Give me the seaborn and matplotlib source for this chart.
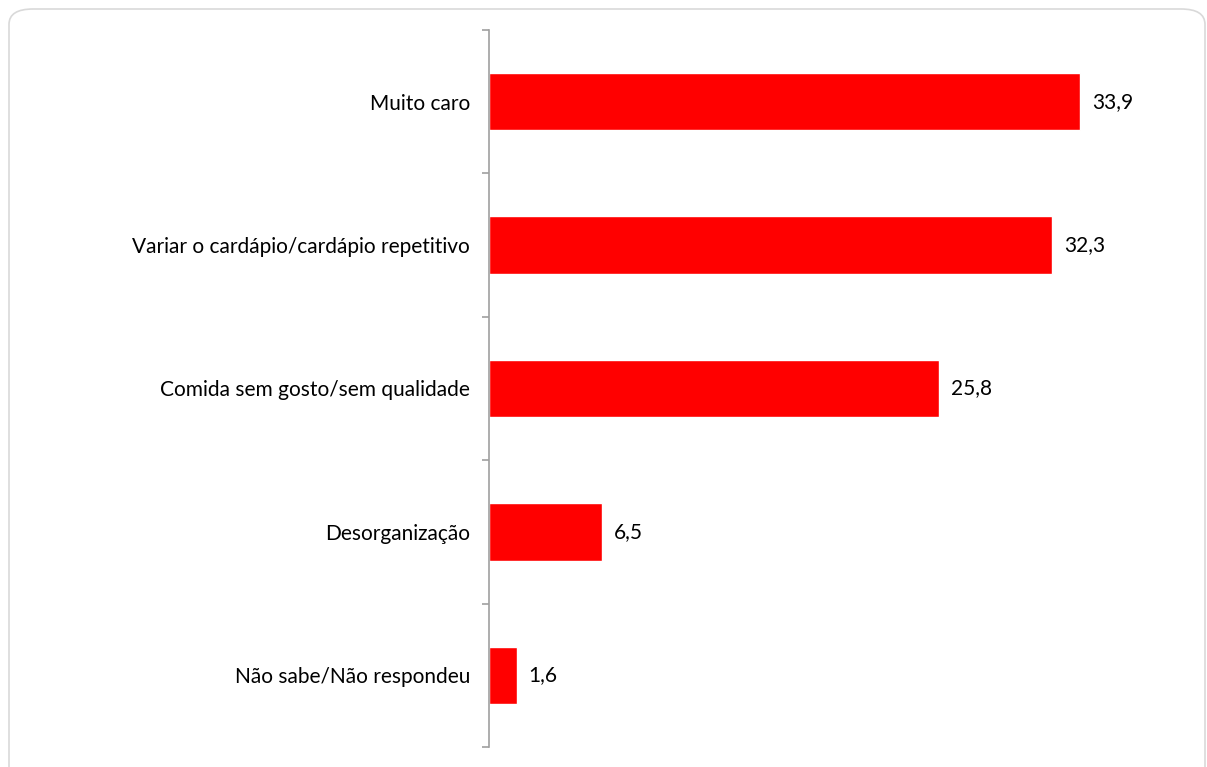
import matplotlib
matplotlib.use("Agg")
import matplotlib.pyplot as plt
from matplotlib.patches import FancyBboxPatch
import seaborn as sns
import pandas as pd

categories = ["Muito caro", "Variar o cardápio/cardápio repetitivo",
              "Comida sem gosto/sem qualidade", "Desorganização",
              "Não sabe/Não respondeu"]
values = [33.9, 32.3, 25.8, 6.5, 1.6]
value_labels = ["33,9", "32,3", "25,8", "6,5", "1,6"]

sns.set_style("white")
plt.rcParams['font.family'] = ['Lato', 'DejaVu Sans']

W, H = 1207, 767
fig = plt.figure(figsize=(W / 100, H / 100), dpi=100)

# rounded frame
frame = FancyBboxPatch((9 / W, 1 - 790 / H), (1205 - 9) / W, (790 - 9) / H,
                       boxstyle="round,pad=0,rounding_size=0.02",
                       transform=fig.transFigure, fill=False,
                       edgecolor="#d9d9d9", linewidth=1.2, clip_on=True)
fig.patches.append(frame)

ax = fig.add_axes([489 / W, 1 - 747 / H, (1190 - 489) / W, (747 - 30) / H])
df = pd.DataFrame({"cat": categories, "val": values})
sns.barplot(data=df, x="val", y="cat", ax=ax, color="#ff0000",
            saturation=1, width=0.4, orient="h")

ax.set_xlim(0, 40.2)
ax.set_ylim(len(categories) - 0.5, -0.5)
ax.set_xlabel("")
ax.set_ylabel("")
ax.set_xticks([])
for s in ["top", "right", "bottom"]:
    ax.spines[s].set_visible(False)
ax.spines["left"].set_color("#a0a0a0")
ax.spines["left"].set_linewidth(1.2)

ax.set_yticks(range(len(categories)))
ax.set_yticklabels(categories, fontsize=15, color="#000000")
ax.tick_params(axis="y", which="major", left=False, length=0, pad=13.5)
ax.set_yticks([i - 0.5 for i in range(len(categories) + 1)], minor=True)
ax.tick_params(axis="y", which="minor", left=True, length=5, width=1.2,
               color="#a0a0a0", direction="out")

for i, (v, lab) in enumerate(zip(values, value_labels)):
    ax.annotate(lab, xy=(v, i), xytext=(8.5, 0), textcoords="offset points",
                va="center", ha="left", fontsize=15, color="#000000")

fig.savefig("out.png", dpi=100)
